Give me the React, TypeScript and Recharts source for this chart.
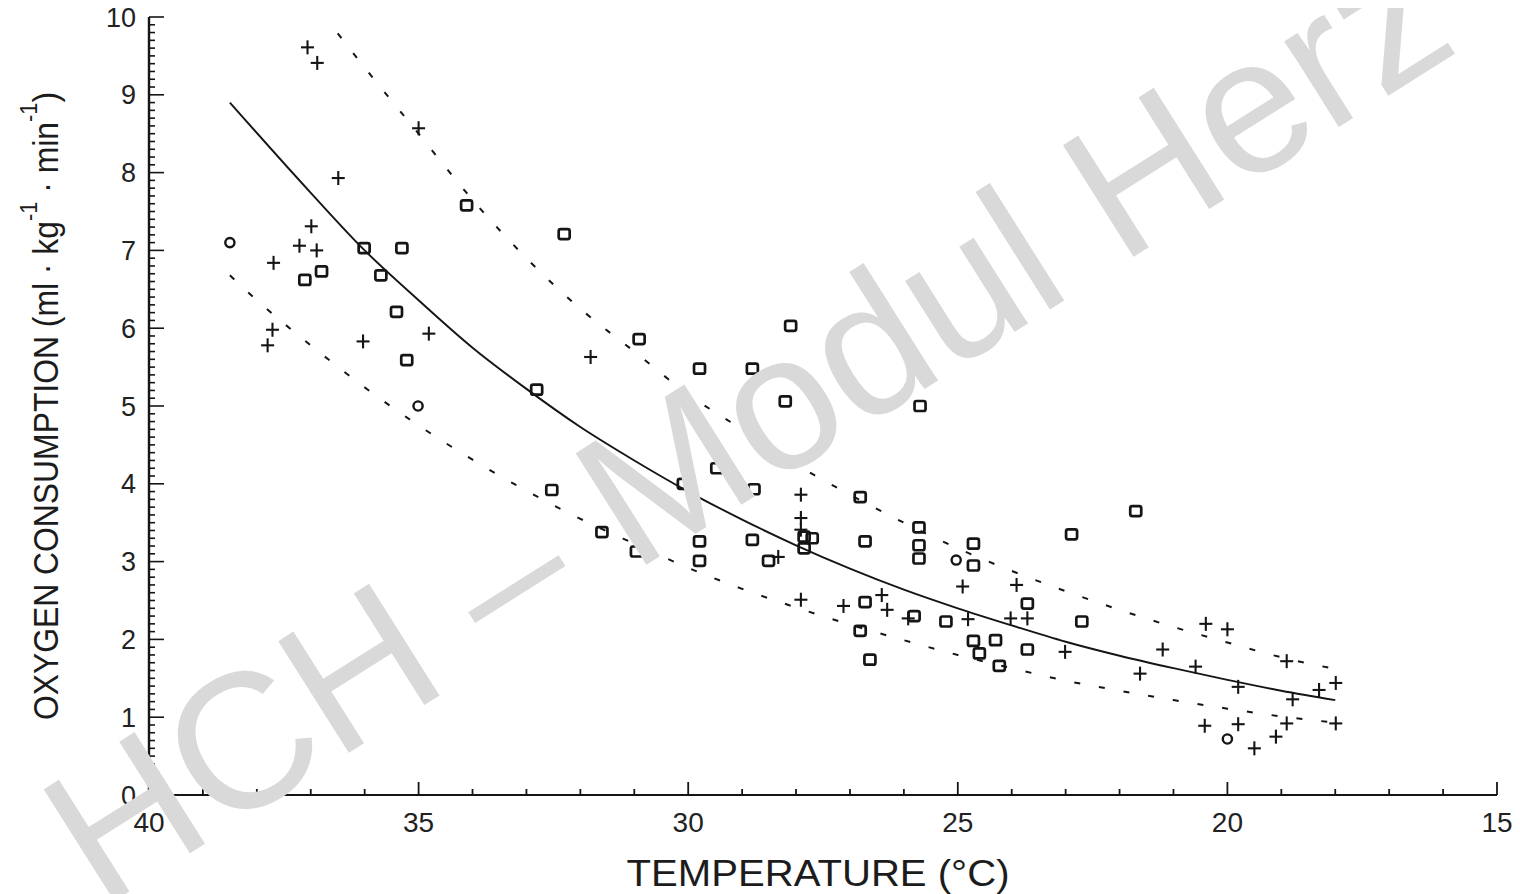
import React from 'react';
import { ComposedChart, XAxis, YAxis, Scatter, Line } from 'recharts';

// ---- data (temperature °C, oxygen consumption ml·kg-1·min-1) ----
const crossPoints = [
  { t: 37.06, v: 9.61 }, { t: 36.88, v: 9.41 }, { t: 35.0, v: 8.57 }, { t: 36.49, v: 7.93 },
  { t: 36.99, v: 7.31 }, { t: 37.21, v: 7.06 }, { t: 36.89, v: 7.0 }, { t: 37.69, v: 6.84 },
  { t: 37.71, v: 5.98 }, { t: 37.8, v: 5.78 }, { t: 36.03, v: 5.83 }, { t: 34.81, v: 5.93 },
  { t: 31.81, v: 5.63 }, { t: 27.91, v: 3.86 }, { t: 27.91, v: 3.56 }, { t: 27.91, v: 3.41 },
  { t: 27.91, v: 2.51 }, { t: 27.12, v: 2.43 }, { t: 26.41, v: 2.57 }, { t: 26.31, v: 2.38 },
  { t: 25.92, v: 2.27 }, { t: 24.91, v: 2.68 }, { t: 24.81, v: 2.26 }, { t: 23.91, v: 2.7 },
  { t: 24.02, v: 2.27 }, { t: 23.71, v: 2.27 }, { t: 23.01, v: 1.84 }, { t: 21.62, v: 1.56 },
  { t: 28.33, v: 3.06 }, { t: 21.2, v: 1.87 }, { t: 20.4, v: 2.2 }, { t: 20.0, v: 2.13 },
  { t: 20.59, v: 1.65 }, { t: 19.8, v: 1.39 }, { t: 18.9, v: 1.72 }, { t: 18.79, v: 1.23 },
  { t: 18.3, v: 1.35 }, { t: 17.99, v: 1.44 }, { t: 20.42, v: 0.89 }, { t: 19.8, v: 0.91 },
  { t: 18.9, v: 0.92 }, { t: 19.1, v: 0.75 }, { t: 19.5, v: 0.6 }, { t: 17.99, v: 0.92 },
];

const squarePoints = [
  { t: 34.11, v: 7.58 }, { t: 32.3, v: 7.21 }, { t: 36.01, v: 7.03 }, { t: 35.31, v: 7.03 },
  { t: 36.8, v: 6.73 }, { t: 37.11, v: 6.62 }, { t: 35.7, v: 6.68 }, { t: 35.41, v: 6.21 },
  { t: 35.22, v: 5.59 }, { t: 32.81, v: 5.21 }, { t: 30.91, v: 5.86 }, { t: 29.79, v: 5.48 },
  { t: 32.53, v: 3.92 }, { t: 31.6, v: 3.38 }, { t: 30.96, v: 3.13 }, { t: 29.79, v: 3.26 },
  { t: 29.79, v: 3.01 }, { t: 28.1, v: 6.03 }, { t: 28.81, v: 5.48 }, { t: 28.2, v: 5.06 },
  { t: 25.7, v: 5.0 }, { t: 28.78, v: 3.93 }, { t: 26.81, v: 3.83 }, { t: 28.81, v: 3.28 },
  { t: 28.51, v: 3.01 }, { t: 27.85, v: 3.32 }, { t: 27.7, v: 3.3 }, { t: 27.85, v: 3.17 },
  { t: 26.72, v: 3.26 }, { t: 25.72, v: 3.44 }, { t: 25.72, v: 3.21 }, { t: 25.72, v: 3.04 },
  { t: 24.71, v: 3.23 }, { t: 24.71, v: 2.95 }, { t: 22.89, v: 3.35 }, { t: 21.7, v: 3.65 },
  { t: 26.72, v: 2.48 }, { t: 26.81, v: 2.11 }, { t: 26.63, v: 1.74 }, { t: 25.81, v: 2.3 },
  { t: 25.22, v: 2.23 }, { t: 24.71, v: 1.98 }, { t: 24.3, v: 1.99 }, { t: 24.6, v: 1.82 },
  { t: 24.23, v: 1.66 }, { t: 23.71, v: 2.46 }, { t: 23.71, v: 1.87 }, { t: 22.7, v: 2.23 },
  { t: 29.47, v: 4.2 }, { t: 30.09, v: 4.0 },
];

const circlePoints = [
  { t: 38.5, v: 7.1 }, { t: 35.01, v: 5.0 }, { t: 25.03, v: 3.02 }, { t: 20.0, v: 0.72 },
];

const fitCurve = [
  { t: 38.5, v: 8.9 }, { t: 37, v: 7.74 }, { t: 36, v: 7.0 }, { t: 35, v: 6.36 }, { t: 34, v: 5.75 },
  { t: 33, v: 5.22 }, { t: 32, v: 4.73 }, { t: 31, v: 4.3 }, { t: 30, v: 3.9 }, { t: 29, v: 3.54 },
  { t: 28, v: 3.21 }, { t: 27, v: 2.91 }, { t: 26, v: 2.64 }, { t: 25, v: 2.4 }, { t: 24, v: 2.18 },
  { t: 23, v: 1.97 }, { t: 22, v: 1.79 }, { t: 21, v: 1.63 }, { t: 20, v: 1.48 }, { t: 19, v: 1.34 },
  { t: 18, v: 1.22 },
];

const upperBand = [
  { t: 36.5, v: 9.79 }, { t: 36, v: 9.35 }, { t: 35, v: 8.5 }, { t: 34, v: 7.65 }, { t: 33, v: 6.9 },
  { t: 32, v: 6.25 }, { t: 31, v: 5.7 }, { t: 30, v: 5.15 }, { t: 29, v: 4.7 }, { t: 28, v: 4.25 },
  { t: 27, v: 3.86 }, { t: 26, v: 3.5 }, { t: 25, v: 3.17 }, { t: 24, v: 2.88 }, { t: 23, v: 2.62 },
  { t: 22, v: 2.38 }, { t: 21, v: 2.16 }, { t: 20, v: 1.96 }, { t: 19, v: 1.77 }, { t: 18, v: 1.62 },
];

const lowerBand = [
  { t: 38.5, v: 6.68 }, { t: 38, v: 6.36 }, { t: 37, v: 5.78 }, { t: 36, v: 5.24 }, { t: 35, v: 4.75 },
  { t: 34, v: 4.31 }, { t: 33, v: 3.91 }, { t: 32, v: 3.55 }, { t: 31, v: 3.23 }, { t: 30, v: 2.92 },
  { t: 29, v: 2.65 }, { t: 28, v: 2.41 }, { t: 27, v: 2.19 }, { t: 26, v: 1.99 }, { t: 25, v: 1.8 },
  { t: 24, v: 1.63 }, { t: 23, v: 1.47 }, { t: 22, v: 1.34 }, { t: 21, v: 1.22 }, { t: 20, v: 1.11 },
  { t: 19, v: 1.01 }, { t: 18, v: 0.93 },
];

const xMajorTicks = [40, 35, 30, 25, 20, 15];
const yMajorTicks = [0, 1, 2, 3, 4, 5, 6, 7, 8, 9, 10];
const xAllTicks = Array.from({ length: 26 }, (_, i) => 15 + i);
const yAllTicks = Array.from({ length: 101 }, (_, i) => i / 10);

const INK = '#151515';
const FONT = '"Liberation Sans", Arial, sans-serif';

const isMajorY = (v: number) => yMajorTicks.some((m) => Math.abs(m - v) < 1e-6);

const YTick = (props: any) => {
  const { x, y, payload } = props;
  const v = payload.value;
  const major = isMajorY(v);
  return (
    <g>
      <line x1={x} x2={x + (major ? 15 : 6)} y1={y} y2={y} stroke={INK} strokeWidth={1.6} />
      {major && (
        <text x={x - 13} y={y} dy={9.5} textAnchor="end" fontSize={27} fontFamily={FONT} fill="#222">
          {Math.round(v)}
        </text>
      )}
    </g>
  );
};

const XTick = (props: any) => {
  const { x, y, payload } = props;
  const v = payload.value;
  const major = xMajorTicks.includes(v);
  return (
    <g>
      <line x1={x} x2={x} y1={y} y2={y - (major ? 13 : 6)} stroke={INK} strokeWidth={1.8} />
      {major && (
        <text x={x} y={y} dy={37} textAnchor="middle" fontSize={28} fontFamily={FONT} fill="#222">
          {v}
        </text>
      )}
    </g>
  );
};

const YLabel = (props: any) => {
  const vb = props.viewBox;
  const cx = vb.x + 45;
  const cy = vb.y + vb.height / 2;
  return (
    <text
      x={cx}
      y={cy}
      transform={`rotate(-90 ${cx} ${cy})`}
      textAnchor="middle"
      dominantBaseline="central"
      fontSize={35}
      fontFamily={FONT}
      fill="#1c1c1c"
      textLength={628}
      lengthAdjust="spacingAndGlyphs"
    >
      OXYGEN CONSUMPTION (ml · kg
      <tspan dy={-17} fontSize={24}>-1</tspan>
      <tspan dy={17}> · min</tspan>
      <tspan dy={-17} fontSize={24}>-1</tspan>
      <tspan dy={17}>)</tspan>
    </text>
  );
};

const XLabel = (props: any) => {
  const vb = props.viewBox;
  const cx = vb.x + vb.width / 2 - 5;
  const baseline = vb.y + 91;
  return (
    <text
      x={cx}
      y={baseline}
      textAnchor="middle"
      fontSize={37}
      fontFamily={FONT}
      fill="#1c1c1c"
      textLength={383}
      lengthAdjust="spacingAndGlyphs"
    >
      TEMPERATURE (°C)
    </text>
  );
};

const SquareShape = (props: any) => {
  const { cx, cy } = props;
  if (cx == null || cy == null) return null;
  return <rect x={cx - 5.5} y={cy - 5} width={11} height={10} rx={2} fill="none" stroke={INK} strokeWidth={2.7} />;
};

const CrossShape = (props: any) => {
  const { cx, cy } = props;
  if (cx == null || cy == null) return null;
  return (
    <g stroke={INK} strokeWidth={2.1}>
      <line x1={cx - 6.5} x2={cx + 6.5} y1={cy} y2={cy} />
      <line x1={cx} x2={cx} y1={cy - 7} y2={cy + 7} />
    </g>
  );
};

const CircleShape = (props: any) => {
  const { cx, cy } = props;
  if (cx == null || cy == null) return null;
  return <circle cx={cx} cy={cy} r={4.6} fill="none" stroke={INK} strokeWidth={2.4} />;
};

export default function App() {
  return (
    <div style={{ position: 'relative', marginTop: -8, marginLeft: -8, width: 1520, height: 894, background: '#fff' }}>
      <ComposedChart width={1520} height={894} margin={{ top: 17, right: 23, bottom: 0, left: 0 }}>
        <XAxis
          type="number"
          dataKey="t"
          domain={[15, 40]}
          reversed
          ticks={xAllTicks}
          interval={0}
          tick={XTick}
          tickSize={0}
          tickMargin={0}
          tickLine={false}
          axisLine={{ stroke: INK, strokeWidth: 2 }}
          height={99}
          label={XLabel}
          allowDataOverflow
        />
        <YAxis
          type="number"
          dataKey="v"
          domain={[0, 10]}
          ticks={yAllTicks}
          interval={0}
          tick={YTick}
          tickSize={0}
          tickMargin={0}
          tickLine={false}
          axisLine={{ stroke: INK, strokeWidth: 2.4 }}
          width={149}
          label={YLabel}
          allowDataOverflow
        />
        <Line
          data={upperBand}
          dataKey="v"
          type="monotone"
          stroke={INK}
          strokeWidth={2}
          strokeDasharray="6 19"
          dot={false}
          activeDot={false}
          isAnimationActive={false}
        />
        <Line
          data={lowerBand}
          dataKey="v"
          type="monotone"
          stroke={INK}
          strokeWidth={2}
          strokeDasharray="6 19"
          dot={false}
          activeDot={false}
          isAnimationActive={false}
        />
        <Line
          data={fitCurve}
          dataKey="v"
          type="monotone"
          stroke={INK}
          strokeWidth={1.9}
          dot={false}
          activeDot={false}
          isAnimationActive={false}
        />
        <Scatter data={squarePoints} dataKey="v" shape={SquareShape} isAnimationActive={false} />
        <Scatter data={crossPoints} dataKey="v" shape={CrossShape} isAnimationActive={false} />
        <Scatter data={circlePoints} dataKey="v" shape={CircleShape} isAnimationActive={false} />
      </ComposedChart>
      <svg
        width={1520}
        height={894}
        style={{ position: 'absolute', left: 0, top: 0, pointerEvents: 'none' }}
      >
        <text
          x={101}
          y={909.5}
          textAnchor="start"
          transform="rotate(-32.3 101 909.5)"
          fontSize={192}
          fontFamily={FONT}
          fill="#d9d9d9"
        >
          HCH – Modul Herz
        </text>
      </svg>
    </div>
  );
}
